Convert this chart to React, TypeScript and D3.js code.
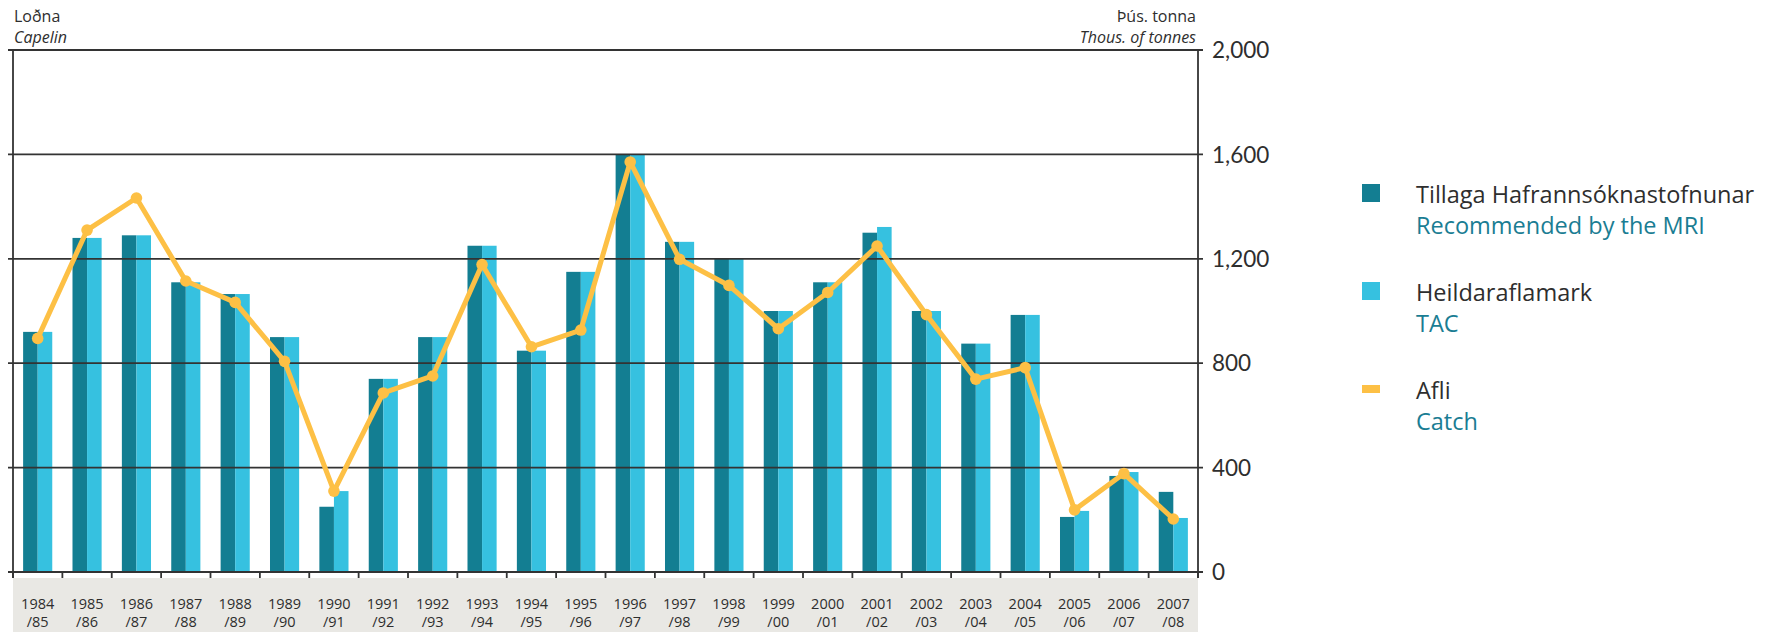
import * as d3 from 'd3';

const WIDTH = 1773;
const HEIGHT = 632;

const seasons = [
  '1984/85', '1985/86', '1986/87', '1987/88', '1988/89', '1989/90', '1990/91', '1991/92',
  '1992/93', '1993/94', '1994/95', '1995/96', '1996/97', '1997/98', '1998/99', '1999/00',
  '2000/01', '2001/02', '2002/03', '2003/04', '2004/05', '2005/06', '2006/07', '2007/08',
];

// Tillaga Hafrannsóknastofnunar / Recommended by the MRI
const recommended = [
  920, 1280, 1290, 1110, 1065, 900, 250, 740, 900, 1250, 848, 1150,
  1600, 1265, 1200, 1000, 1110, 1300, 1000, 875, 985, 211, 368, 307,
];
// Heildaraflamark / TAC
const tac = [
  920, 1280, 1290, 1110, 1065, 900, 310, 740, 900, 1250, 848, 1150,
  1600, 1265, 1200, 1000, 1110, 1322, 1000, 875, 985, 234, 383, 207,
];
// Afli / Catch
const catchVals = [
  895, 1310, 1433, 1115, 1033, 807, 310, 686, 751, 1178, 863, 927,
  1571, 1198, 1098, 932, 1071, 1249, 986, 739, 783, 238, 377, 203,
];

const yTicks = [0, 400, 800, 1200, 1600, 2000];

const legendItems = [
  { is: 'Tillaga Hafrannsóknastofnunar', en: 'Recommended by the MRI', color: '#137e92', kind: 'box' },
  { is: 'Heildaraflamark', en: 'TAC', color: '#36c1e0', kind: 'box' },
  { is: 'Afli', en: 'Catch', color: '#fdc045', kind: 'line' },
];

const DARK = '#137e92';
const LIGHT = '#36c1e0';
const GOLD = '#fdc045';
const TEXT = '#2e2e2e';
const SANS = '"Open Sans", Lato, sans-serif';
const NUM = 'Lato, "Open Sans", sans-serif';

const PLOT = { left: 13, right: 1198, top: 50, bottom: 572 };

export default function App() {
  const x = d3.scaleBand<string>().domain(seasons).range([PLOT.left, PLOT.right]);
  const pairW = x.bandwidth() * 0.59;
  const sub = d3
    .scaleBand<string>()
    .domain(['rec', 'tac'])
    .range([(x.bandwidth() - pairW) / 2, (x.bandwidth() + pairW) / 2]);
  const y = d3.scaleLinear().domain([0, 2000]).range([PLOT.bottom, PLOT.top]);
  const cx = (s: string) => (x(s) ?? 0) + x.bandwidth() / 2;

  const line = d3
    .line<number>()
    .x((_, i) => cx(seasons[i]))
    .y((d) => y(d));

  const fmt = d3.format(',');
  const boundaries = seasons.map((s) => x(s) ?? 0).concat([PLOT.right]);

  return (
    <div style={{ position: 'absolute', left: 0, top: 0 }}>
      <svg width={WIDTH} height={HEIGHT} style={{ display: 'block', fontFamily: SANS }}>
        <rect width={WIDTH} height={HEIGHT} fill="#fff" />

        {/* titles */}
        <text x={14} y={22} fontSize={16} fill={TEXT}>Loðna</text>
        <text x={14} y={43} fontSize={16} fill={TEXT} fontStyle="italic">Capelin</text>
        <text x={1196} y={22} fontSize={16} fill={TEXT} textAnchor="end">Þús. tonna</text>
        <text x={1196} y={43} fontSize={16} fill={TEXT} textAnchor="end" fontStyle="italic">
          Thous. of tonnes
        </text>

        {/* category label band */}
        <rect x={PLOT.left} y={578} width={PLOT.right - PLOT.left} height={HEIGHT - 578} fill="#e9e8e4" />

        {/* bars */}
        {seasons.map((s, i) => (
          <g key={s} transform={`translate(${x(s)},0)`}>
            <rect x={sub('rec')} y={y(recommended[i])} width={sub.bandwidth()} height={PLOT.bottom - y(recommended[i])} fill={DARK} />
            <rect x={sub('tac')} y={y(tac[i])} width={sub.bandwidth()} height={PLOT.bottom - y(tac[i])} fill={LIGHT} />
          </g>
        ))}

        {/* gridlines */}
        {yTicks.map((t) => (
          <g key={t}>
            <line x1={8} x2={1203} y1={y(t)} y2={y(t)} stroke="#333" strokeWidth={1.8} />
            <text x={1212} y={y(t)} dy="0.36em" fontSize={22.5} fill={TEXT} fontFamily={NUM}>{fmt(t)}</text>
          </g>
        ))}

        {/* axes */}
        <line x1={PLOT.left} x2={PLOT.left} y1={PLOT.top} y2={578} stroke="#333" strokeWidth={1.8} />
        <line x1={PLOT.right} x2={PLOT.right} y1={PLOT.top} y2={578} stroke="#333" strokeWidth={1.8} />
        {boundaries.map((b, i) => (
          <line key={i} x1={b} x2={b} y1={PLOT.bottom} y2={578} stroke="#333" strokeWidth={1.8} />
        ))}

        {/* catch line */}
        <path d={line(catchVals) ?? ''} fill="none" stroke={GOLD} strokeWidth={5} strokeLinejoin="round" />
        {catchVals.map((v, i) => (
          <circle key={i} cx={cx(seasons[i])} cy={y(v)} r={5.8} fill={GOLD} />
        ))}

        {/* x labels */}
        {seasons.map((s) => {
          const [a, b] = s.split('/');
          return (
            <text key={s} x={cx(s)} textAnchor="middle" fontSize={14.5} fill={TEXT}>
              <tspan x={cx(s)} y={609}>{a}</tspan>
              <tspan x={cx(s)} y={627}>/{b}</tspan>
            </text>
          );
        })}

        {/* legend */}
        {legendItems.map((d, i) => {
          const top = 184 + i * 98;
          return (
            <g key={d.is}>
              {d.kind === 'box' ? (
                <rect x={1362} y={top} width={18} height={18} fill={d.color} />
              ) : (
                <rect x={1362} y={top + 5} width={18} height={8} fill={d.color} />
              )}
              <text x={1416} y={top + 19} fontSize={23.5} fill={TEXT}>{d.is}</text>
              <text x={1416} y={top + 50} fontSize={23.5} fill="#1a7d93">{d.en}</text>
            </g>
          );
        })}
      </svg>
    </div>
  );
}
